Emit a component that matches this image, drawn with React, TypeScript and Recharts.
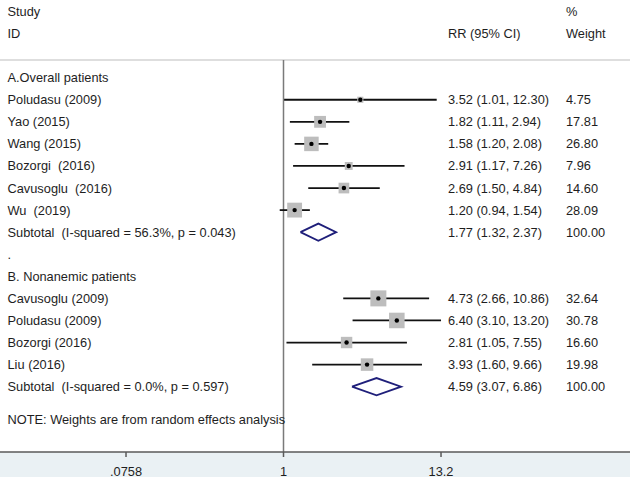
import React from 'react';
import { ComposedChart, Scatter, XAxis, YAxis, ReferenceLine, ErrorBar } from 'recharts';

// ---------- data ----------
const groupTitles = ['A.Overall patients', 'B. Nonanemic patients'];

const studiesA = ['Poludasu (2009)', 'Yao (2015)', 'Wang (2015)', 'Bozorgi  (2016)', 'Cavusoglu  (2016)', 'Wu  (2019)'];
const rrA = [3.52, 1.82, 1.58, 2.91, 2.69, 1.2];
const lowA = [1.01, 1.11, 1.2, 1.17, 1.5, 0.94];
const highA = [12.3, 2.94, 2.08, 7.26, 4.84, 1.54];
const weightA = [4.75, 17.81, 26.8, 7.96, 14.6, 28.09];

const studiesB = ['Cavusoglu (2009)', 'Poludasu (2009)', 'Bozorgi (2016)', 'Liu (2016)'];
const rrB = [4.73, 6.4, 2.81, 3.93];
const lowB = [2.66, 3.1, 1.05, 1.6];
const highB = [10.86, 13.2, 7.55, 9.66];
const weightB = [32.64, 30.78, 16.6, 19.98];

const subtotalLabels = ['Subtotal  (I-squared = 56.3%, p = 0.043)', 'Subtotal  (I-squared = 0.0%, p = 0.597)'];
const subtotalRR = [1.77, 4.59];
const subtotalLow = [1.32, 3.07];
const subtotalHigh = [2.37, 6.86];
const subtotalWeight = [100, 100];

const xTicks = [0.0758, 1, 13.2];
const xTickLabels = ['.0758', '1', '13.2'];
const headerLeft = ['Study', 'ID'];
const headerRR = 'RR (95% CI)';
const headerWeight = ['%', 'Weight'];
const noteText = 'NOTE: Weights are from random effects analysis';

// ---------- layout constants ----------
const W = 630;
const H = 477;
const FONT = '"Liberation Sans", Arial, sans-serif';
const FS = 12.8;
const TXT = '#1e1e1e';
const COL_LABEL = 7.5;
const COL_RR = 448;
const COL_W = 566;
const Y_DOMAIN: [number, number] = [-3.52, 16.96];
const X_DOMAIN: [number, number] = [0.009621, 291.7];
const HEADER_LINE_ROW = -0.8;
const DIAMOND_HALF = 0.39;

// ---------- build rows ----------
type RowText = { x: number; y: number; label?: string; rr?: string; w?: string };
type StudyPt = { x: number; y: number; w: number; err: [number, number] };

const fmt = (v: number) => v.toFixed(2);
const rowTexts: RowText[] = [];
const studyPts: StudyPt[] = [];
const diamonds: { x: number; y: number }[][] = [];

rowTexts.push({ x: 1, y: -3, label: headerLeft[0], w: headerWeight[0] });
rowTexts.push({ x: 1, y: -2, label: headerLeft[1], rr: headerRR, w: headerWeight[1] });

const groups = [
  { names: studiesA, rr: rrA, lo: lowA, hi: highA, wt: weightA },
  { names: studiesB, rr: rrB, lo: lowB, hi: highB, wt: weightB },
];

let r = 0;
groups.forEach((g, gi) => {
  rowTexts.push({ x: 1, y: r, label: groupTitles[gi] });
  r += 1;
  g.names.forEach((n, i) => {
    rowTexts.push({
      x: 1,
      y: r,
      label: n,
      rr: `${fmt(g.rr[i])} (${fmt(g.lo[i])}, ${fmt(g.hi[i])})`,
      w: fmt(g.wt[i]),
    });
    studyPts.push({ x: g.rr[i], y: r, w: g.wt[i], err: [g.rr[i] - g.lo[i], g.hi[i] - g.rr[i]] });
    r += 1;
  });
  rowTexts.push({
    x: 1,
    y: r,
    label: subtotalLabels[gi],
    rr: `${fmt(subtotalRR[gi])} (${fmt(subtotalLow[gi])}, ${fmt(subtotalHigh[gi])})`,
    w: fmt(subtotalWeight[gi]),
  });
  diamonds.push([
    { x: subtotalLow[gi], y: r },
    { x: subtotalRR[gi], y: r - DIAMOND_HALF },
    { x: subtotalHigh[gi], y: r },
    { x: subtotalRR[gi], y: r + DIAMOND_HALF },
    { x: subtotalLow[gi], y: r },
  ]);
  r += 1;
  if (gi === 0) {
    rowTexts.push({ x: 1, y: r, label: '.' });
    r += 1;
  }
});
rowTexts.push({ x: 1, y: r + 0.5, label: noteText });

// ---------- renderers ----------
const textStyle: React.CSSProperties = { whiteSpace: 'pre' };

const RowTextShape = (props: any) => {
  const { cy, payload } = props;
  const t = payload as RowText;
  const common = { y: cy, dy: '0.35em', fontSize: FS, fontFamily: FONT, fill: TXT, style: textStyle };
  return (
    <g>
      {t.label && (
        <text x={COL_LABEL} {...common}>
          {t.label}
        </text>
      )}
      {t.rr && (
        <text x={COL_RR} {...common}>
          {t.rr}
        </text>
      )}
      {t.w && (
        <text x={COL_W} {...common}>
          {t.w}
        </text>
      )}
    </g>
  );
};

const XTick = (props: any) => {
  const { x, y, payload } = props;
  const idx = xTicks.indexOf(payload.value);
  const label = idx >= 0 ? xTickLabels[idx] : String(payload.value);
  return (
    <text x={x} y={y + 16.5} textAnchor="middle" fontSize={FS} fontFamily={FONT} fill={TXT}>
      {label}
    </text>
  );
};

const BoxShape = (props: any) => {
  const { cx, cy, payload } = props;
  const s = 2.8 * Math.sqrt(payload.w);
  return <rect x={cx - s / 2} y={cy - s / 2} width={s} height={s} fill="#bdbdbd" />;
};

const DotShape = (props: any) => {
  const { cx, cy } = props;
  return <circle cx={cx} cy={cy} r={2.2} fill="#000" />;
};

const NoShape = () => <g />;

export default function App() {
  return (
    <div
      style={{
        position: 'absolute',
        left: 0,
        top: 0,
        width: W,
        height: H,
        background: 'linear-gradient(to bottom, #ffffff 0px, #ffffff 452px, #eaf1f4 452px, #eaf1f4 477px)',
      }}
    >
      <ComposedChart width={W} height={H} margin={{ top: 0, right: 0, bottom: 0, left: 0 }}>
        <XAxis
          dataKey="x"
          type="number"
          scale="log"
          domain={X_DOMAIN}
          allowDataOverflow
          ticks={xTicks}
          interval={0}
          height={25}
          tickSize={5}
          tickMargin={2}
          axisLine={{ stroke: '#5a5a5a', strokeWidth: 1.5 }}
          tickLine={{ stroke: '#5a5a5a', strokeWidth: 1.5 }}
          tick={<XTick />}
        />
        <YAxis dataKey="y" type="number" domain={Y_DOMAIN} allowDataOverflow reversed hide width={0} />
        <ReferenceLine y={HEADER_LINE_ROW} stroke="#d3d3d3" strokeWidth={1.5} />
        <ReferenceLine
          segment={[
            { x: 1, y: HEADER_LINE_ROW },
            { x: 1, y: Y_DOMAIN[1] },
          ]}
          stroke="#7a7a7a"
          strokeWidth={1.5}
        />
        <Scatter data={rowTexts} shape={<RowTextShape />} isAnimationActive={false} />
        <Scatter data={studyPts} shape={<BoxShape />} isAnimationActive={false} />
        <Scatter data={studyPts} shape={<DotShape />} isAnimationActive={false}>
          <ErrorBar dataKey="err" direction="x" width={0} stroke="#111" strokeWidth={1.8} />
        </Scatter>
        {diamonds.map((d, i) => (
          <Scatter
            key={i}
            data={d}
            shape={<NoShape />}
            line={{ stroke: '#1f1f7a', strokeWidth: 1.8 }}
            isAnimationActive={false}
          />
        ))}
      </ComposedChart>
    </div>
  );
}
